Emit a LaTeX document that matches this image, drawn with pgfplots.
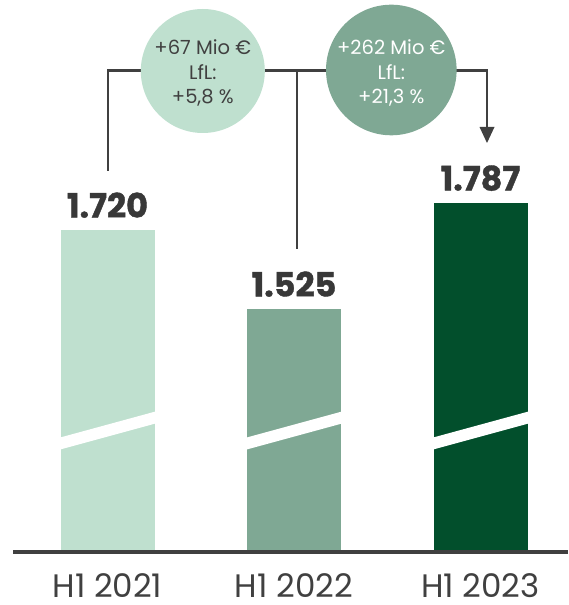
\documentclass[border=0pt]{standalone}
\usepackage{pgfplots}
\pgfplotsset{compat=1.18}
\usepackage{fontspec}
\setmainfont{Poppins}
\newfontfamily\heavy{Poppins}[BoldFeatures={FakeBold=1.2}]
\definecolor{cLight}{HTML}{BFE0CF}
\definecolor{cMid}{HTML}{7FA894}
\definecolor{cDark}{HTML}{024F2C}
\definecolor{cLine}{HTML}{404040}
\definecolor{cText}{HTML}{383838}
\begin{document}
\begin{tikzpicture}
\useasboundingbox (0pt,-53pt) rectangle (568pt,552pt);
\begin{axis}[
  scale only axis, width=568pt, height=552pt,
  xmin=-0.5764, xmax=2.469, ymin=925, ymax=2288,
  hide y axis,
  axis x line=bottom, x axis line style={draw=none,-},
  xtick={0,1,2}, xticklabels={H1 2021,H1 2022,H1 2023},
  major tick length=0pt,
  xticklabel style={anchor=base, yshift=-45.5pt, inner sep=0pt, text=cLine, font=\fontsize{32.5}{36}\selectfont},
  ybar, bar width=94pt, bar shift=0pt,
  clip=false,
  point meta=explicit symbolic,
  nodes near coords,
  every node near coord/.append style={anchor=base, yshift=12.5pt, inner sep=0pt, text=cText, font=\heavy\bfseries\fontsize{33.5}{36}\selectfont},
]
\addplot[fill=cLight, draw=none] coordinates {(0,1720) [1.720]};
\addplot[fill=cMid, draw=none] coordinates {(1,1525) [1.525]};
\addplot[fill=cDark, draw=none] coordinates {(2,1787) [1.787]};
\end{axis}
% break stripes
\foreach \c in {107.5,294,480.5}{
  \fill[white] (\c pt-48pt,102.3pt) -- (\c pt+48pt,128.5pt) -- (\c pt+48pt,140.5pt) -- (\c pt-48pt,114.3pt) -- cycle;
}
% baseline
\draw[cLine, line width=3pt] (13.3pt,0pt) -- (568pt,0pt);
% connectors
\draw[cLine, line width=2.7pt, line join=miter] (108pt,381pt) -- (108pt,481.3pt) -- (487pt,481.3pt) -- (487pt,424pt);
\draw[cLine, line width=2.7pt] (297pt,481.3pt) -- (297pt,303pt);
\fill[cLine] (479.5pt,425pt) -- (494.5pt,425pt) -- (487pt,409pt) -- cycle;
% circles
\fill[cLight] (202.8pt,481pt) circle (62pt);
\fill[cMid] (391.3pt,482pt) circle (65.3pt);
\begin{scope}[every node/.style={anchor=base, inner sep=0pt, font=\fontsize{19.5}{22}\selectfont}]
\node[text=cLine] at (202.8pt,497.5pt) {+67 Mio €};
\node[text=cLine] at (202.8pt,472pt) {LfL:};
\node[text=cLine] at (202.8pt,448.5pt) {+5,8 \%};
\node[text=white] at (391.3pt,497.5pt) {+262 Mio €};
\node[text=white] at (391.3pt,472pt) {LfL:};
\node[text=white] at (391.3pt,448.5pt) {+21,3 \%};
\end{scope}
\end{tikzpicture}
\end{document}
